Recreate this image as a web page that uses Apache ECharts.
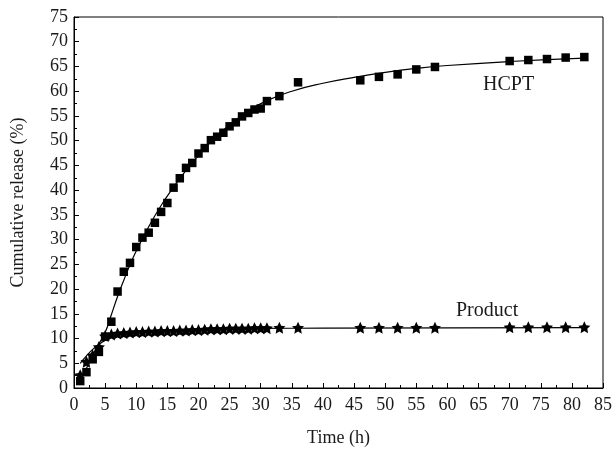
<!DOCTYPE html>
<html>
<head>
<meta charset="utf-8">
<script src="https://cdn.jsdelivr.net/npm/echarts@6/dist/echarts.min.js"></script>
<style>
  html, body { margin: 0; padding: 0; background: #fff; }
  #chart { width: 614px; height: 450px; }
</style>
</head>
<body>
<div id="chart"></div>
<script>
// measured points (time h, cumulative release %)
const hcptPoints = [
  [1, 1.4], [2, 3.2], [3, 5.8], [4, 7.3], [5, 10.4], [6, 13.4], [7, 19.5], [8, 23.5],
  [9, 25.3], [10, 28.5], [11, 30.4], [12, 31.4], [13, 33.4], [14, 35.6], [15, 37.4],
  [16, 40.5], [17, 42.4], [18, 44.5], [19, 45.5], [20, 47.4], [21, 48.5], [22, 50.1],
  [23, 50.8], [24, 51.6], [25, 52.9], [26, 53.7], [27, 54.9], [28, 55.6], [29, 56.3],
  [30, 56.5], [31, 58.0], [33, 59.0], [36, 61.8], [46, 62.2], [49, 62.9], [52, 63.4],
  [55, 64.4], [58, 64.9], [70, 66.1], [73, 66.3], [76, 66.5], [79, 66.8], [82, 66.9]
]
const productPoints = [
  [1, 2.6], [2, 5.3], [3, 6.6], [4, 8.3], [5, 10.5], [6, 10.8], [7, 11.0], [8, 11.1],
  [9, 11.2], [10, 11.3], [11, 11.3], [12, 11.4], [13, 11.4], [14, 11.5], [15, 11.5],
  [16, 11.5], [17, 11.6], [18, 11.6], [19, 11.7], [20, 11.7], [21, 11.8], [22, 11.9],
  [23, 11.9], [24, 11.9], [25, 12.0], [26, 12.0], [27, 12.0], [28, 12.0], [29, 12.1],
  [30, 12.1], [31, 12.1], [33, 12.2], [36, 12.2], [46, 12.2], [49, 12.2], [52, 12.2],
  [55, 12.2], [58, 12.2], [70, 12.3], [73, 12.3], [76, 12.3], [79, 12.3], [82, 12.3]
]
// fitted curves
const hcptFit = [
  [1, 1.5], [2, 4.0], [3, 6.6], [4, 8.9], [5, 11.2], [6, 14.8], [7, 18.5], [8, 21.8],
  [9, 24.9], [10, 27.7], [12, 32.6], [14, 36.9], [16, 40.6], [18, 44.0], [20, 47.0],
  [22, 49.8], [25, 53.2], [28, 56.0], [31, 58.1], [35, 60.0], [40, 61.6], [45, 62.8],
  [50, 63.8], [55, 64.6], [60, 65.2], [70, 66.0], [82, 66.7]
]
const productFit = [
  [1, 5.0], [2, 6.5], [3, 7.8], [4, 8.8], [5, 9.6], [6, 10.2], [7, 10.6], [8, 10.9],
  [10, 11.3], [12, 11.5], [15, 11.7], [20, 11.9], [25, 12.0], [30, 12.05], [40, 12.1],
  [82, 12.2]
]
const xName = 'Time (h)'
const yName = 'Cumulative release (%)'

const FONT = '"Liberation Serif", "DejaVu Serif", serif'
const starPath = 'path://M0,-10 L2.9,-4 9.5,-3.1 4.7,1.6 5.9,8.1 0,5 -5.9,8.1 -4.7,1.6 -9.5,-3.1 -2.9,-4 Z'

const axisCommon = {
  type: 'value',
  interval: 5,
  min: 0,
  axisLine: { show: true, lineStyle: { color: '#000', width: 1 } },
  axisTick: { show: true, inside: true, length: 5, lineStyle: { color: '#000' } },
  minorTick: { show: true, splitNumber: 2, length: 3, lineStyle: { color: '#000' } },
  splitLine: { show: false },
  axisLabel: { color: '#1a1a1a', fontFamily: FONT, fontSize: 18 },
  nameLocation: 'middle',
  nameTextStyle: { color: '#1a1a1a', fontFamily: FONT, fontSize: 18 }
}

const chart = echarts.init(document.getElementById('chart'))
chart.setOption({
  animation: false,
  backgroundColor: '#fff',
  grid: {
    left: 74, right: 11, top: 17, bottom: 62,
    outerBoundsMode: 'none',
    show: true, borderColor: '#000', borderWidth: 1
  },
  xAxis: Object.assign({}, axisCommon, {
    max: 85,
    name: xName,
    nameGap: 41,
    axisLabel: Object.assign({}, axisCommon.axisLabel, { margin: 8 })
  }),
  yAxis: Object.assign({}, axisCommon, {
    max: 75,
    name: yName,
    nameGap: 47,
    axisLabel: Object.assign({}, axisCommon.axisLabel, { margin: 6 })
  }),
  graphic: [
    { type: 'text', left: 483, top: 75, style: { text: 'HCPT', font: '20px ' + FONT, fill: '#1a1a1a' } },
    { type: 'text', left: 456, top: 301, style: { text: 'Product', font: '20px ' + FONT, fill: '#1a1a1a' } }
  ],
  series: [
    {
      type: 'line', data: hcptFit, smooth: true, showSymbol: false,
      lineStyle: { color: '#000', width: 1.2 }, z: 2
    },
    {
      type: 'line', data: productFit, smooth: true, showSymbol: false,
      lineStyle: { color: '#000', width: 1.2 }, z: 2
    },
    {
      type: 'scatter', data: hcptPoints, symbol: 'rect', symbolSize: 8.5,
      itemStyle: { color: '#000', opacity: 1 }, z: 3
    },
    {
      type: 'scatter', data: productPoints, symbol: starPath, symbolSize: 12,
      itemStyle: { color: '#000', opacity: 1 }, z: 4
    }
  ]
})
</script>
</body>
</html>
